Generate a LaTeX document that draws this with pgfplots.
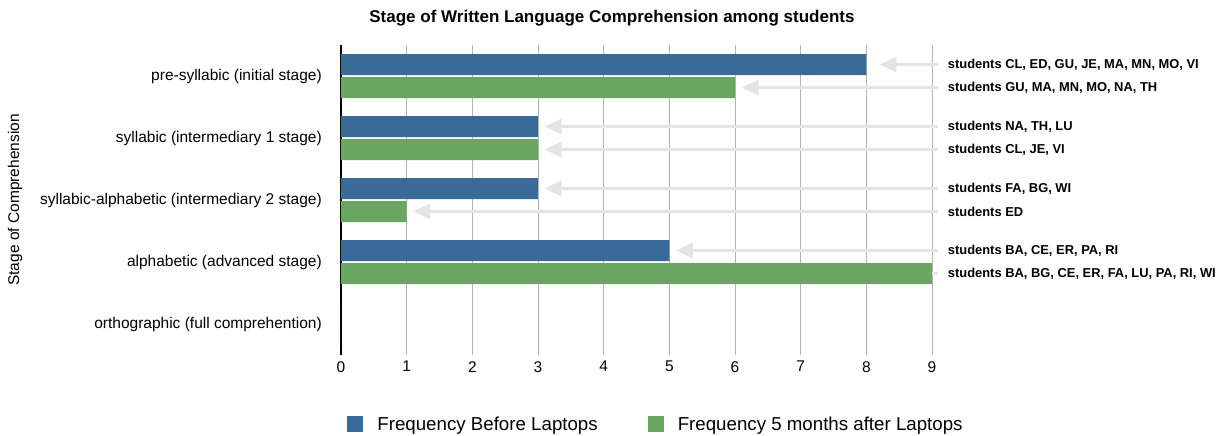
\documentclass[border=0pt]{standalone}
\usepackage{pgfplots}
\pgfplotsset{compat=1.18}
\usepackage{fontspec}
\setmainfont{Liberation Sans}
\usetikzlibrary{arrows.meta}
\definecolor{cblue}{HTML}{3A6B98}
\definecolor{cgreen}{HTML}{6AA662}
\definecolor{carrow}{HTML}{E4E4E4}
\definecolor{cgrid}{HTML}{B4B4B4}
\tikzset{arr/.style={carrow, line width=3.5bp, -{Triangle[width=15bp,length=17bp]}},
  ann/.style={anchor=west, inner sep=0pt, font=\bfseries\fontsize{12.9bp}{15bp}\selectfont}}
\begin{document}
\begin{tikzpicture}
\useasboundingbox (-341bp,-81bp) rectangle (883bp,355bp);
\begin{axis}[
  scale only axis,
  width=591bp, height=310bp,
  anchor=south west, at={(0,0)},
  xmin=0, xmax=9, ymin=-0.5, ymax=4.5,
  xtick={0,1,2,3,4,5,6,7,8,9},
  ytick={0,1,2,3,4},
  yticklabels={orthographic (full comprehention),alphabetic (advanced stage),syllabic-alphabetic (intermediary 2 stage),syllabic (intermediary 1 stage),pre-syllabic (initial stage)},
  major tick length=0pt,
  xmajorgrids, grid style={cgrid, line width=0.9bp},
  axis lines*=left,
  x axis line style={draw=none},
  y axis line style={black, line width=1.2bp},
  /pgf/number format/assume math mode=true,
  ticklabel style={font=\fontsize{15.5bp}{18bp}\selectfont},
  yticklabel style={inner sep=0pt, xshift=-19bp},
  xticklabel style={inner sep=0pt, yshift=-6bp},
  ylabel={Stage of Comprehension},
  ylabel style={at={(axis description cs:-0.5516,0.5)}, anchor=center, font=\fontsize{15.5bp}{18bp}\selectfont},
  every axis title shift=0pt,
  title={Stage of Written Language Comprehension among students},
  title style={at={(axis description cs:0.4585,1.071)}, anchor=base, font=\bfseries\fontsize{17bp}{20bp}\selectfont},
  xbar, bar width=21bp,
  clip=false,
  legend columns=2,
  legend style={at={(axis description cs:0.533,-0.2226)}, anchor=center, draw=none,
    font=\fontsize{18.7bp}{22bp}\selectfont,
    /tikz/every odd column/.append style={column sep=12bp},
    /tikz/every even column/.append style={column sep=48bp}},
  legend image code/.code={\path[#1,draw=none] (0bp,-8bp) rectangle (16bp,8bp);},
]
\draw[arr] ([yshift=11.5bp]axis cs:9.09,4) -- ([yshift=11.5bp]axis cs:8.2,4);
\draw[arr] ([yshift=-11.5bp]axis cs:9.09,4) -- ([yshift=-11.5bp]axis cs:6.1,4);
\draw[arr] ([yshift=11.5bp]axis cs:9.09,3) -- ([yshift=11.5bp]axis cs:3.1,3);
\draw[arr] ([yshift=-11.5bp]axis cs:9.09,3) -- ([yshift=-11.5bp]axis cs:3.1,3);
\draw[arr] ([yshift=11.5bp]axis cs:9.09,2) -- ([yshift=11.5bp]axis cs:3.1,2);
\draw[arr] ([yshift=-11.5bp]axis cs:9.09,2) -- ([yshift=-11.5bp]axis cs:1.1,2);
\draw[arr] ([yshift=11.5bp]axis cs:9.09,1) -- ([yshift=11.5bp]axis cs:5.1,1);
\draw[carrow, line width=3.5bp] ([yshift=-11.5bp]axis cs:9.0,1) -- ([yshift=-11.5bp]axis cs:9.09,1);
\addplot[fill=cblue, draw=none, bar shift=11.5bp] coordinates {(8,4) (3,3) (3,2) (5,1) (0,0)};
\addplot[fill=cgreen, draw=none, bar shift=-11.5bp] coordinates {(6,4) (3,3) (1,2) (9,1) (0,0)};
\legend{Frequency Before Laptops, Frequency 5 months after Laptops}
\node[ann] at ([yshift=11.5bp]axis cs:9.24,4) {students CL, ED, GU, JE, MA, MN, MO, VI};
\node[ann] at ([yshift=-11.5bp]axis cs:9.24,4) {students GU, MA, MN, MO, NA, TH};
\node[ann] at ([yshift=11.5bp]axis cs:9.24,3) {students NA, TH, LU};
\node[ann] at ([yshift=-11.5bp]axis cs:9.24,3) {students CL, JE, VI};
\node[ann] at ([yshift=11.5bp]axis cs:9.24,2) {students FA, BG, WI};
\node[ann] at ([yshift=-11.5bp]axis cs:9.24,2) {students ED};
\node[ann] at ([yshift=11.5bp]axis cs:9.24,1) {students BA, CE, ER, PA, RI};
\node[ann] at ([yshift=-11.5bp]axis cs:9.24,1) {students BA, BG, CE, ER, FA, LU, PA, RI, WI};
\end{axis}
\end{tikzpicture}
\end{document}
